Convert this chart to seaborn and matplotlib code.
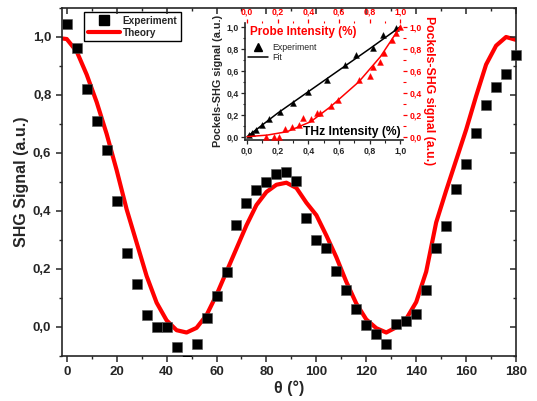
import numpy as np
import pandas as pd
import matplotlib
matplotlib.use("Agg")
import matplotlib.pyplot as plt
import seaborn as sns
from matplotlib.ticker import MultipleLocator, FuncFormatter, NullFormatter
from matplotlib.patches import Rectangle
from matplotlib.lines import Line2D

# ---------------- data ----------------
theta_exp = [0, 4, 8, 12, 16, 20, 24, 28, 32, 36, 40, 44, 48, 52, 56, 60, 64, 68, 72, 76,
             80, 84, 88, 92, 96, 100, 104, 108, 112, 116, 120, 124, 128, 132, 136, 140,
             144, 148, 152, 156, 160, 164, 168, 172, 176, 180]
shg_exp = [1.044, 0.961, 0.82, 0.709, 0.611, 0.433, 0.254, 0.147, 0.042, 0.0, 0.0, -0.069,
           -0.115, -0.061, 0.029, 0.107, 0.19, 0.35, 0.427, 0.473, 0.498, 0.528, 0.535, 0.504,
           0.375, 0.298, 0.271, 0.193, 0.125, 0.062, 0.006, -0.024, -0.061, 0.008, 0.021,
           0.043, 0.125, 0.271, 0.348, 0.476, 0.56, 0.669, 0.766, 0.828, 0.873, 0.937]

theta_th = [-2, 0, 4, 8, 12, 16, 20, 24, 28, 32, 36, 40, 44, 48, 52, 56, 60, 64, 68, 72, 76,
            80, 84, 88, 92, 96, 100, 104, 108, 112, 116, 120, 124, 128, 132, 136, 140, 144,
            148, 152, 156, 160, 164, 168, 172, 176, 180]
shg_th = [0.995, 0.993, 0.95, 0.87, 0.775, 0.665, 0.54, 0.405, 0.29, 0.175, 0.083, 0.022,
          -0.012, -0.02, -0.004, 0.04, 0.11, 0.19, 0.27, 0.35, 0.42, 0.465, 0.49, 0.497,
          0.479, 0.428, 0.385, 0.315, 0.24, 0.155, 0.08, 0.025, -0.005, -0.02, -0.002, 0.027,
          0.085, 0.19, 0.36, 0.47, 0.575, 0.68, 0.796, 0.905, 0.97, 1.0, 0.99]

# inset: THz intensity (black)
thz_int = [0.013, 0.029, 0.057, 0.094, 0.144, 0.214, 0.301, 0.399, 0.523, 0.639, 0.710,
           0.824, 0.885, 0.970]
thz_sig = [0.015, 0.036, 0.061, 0.106, 0.158, 0.227, 0.309, 0.409, 0.515, 0.652, 0.743,
           0.803, 0.925, 0.985]
thz_fit_x = [0.0, 0.2, 0.4, 0.6, 0.8, 1.0]
thz_fit_y = [0.0, 0.215, 0.41, 0.605, 0.80, 1.0]

# inset: probe intensity (red)
probe_int = [0.124, 0.174, 0.207, 0.25, 0.294, 0.337, 0.366, 0.42, 0.453, 0.479, 0.549,
             0.592, 0.729, 0.801, 0.823, 0.865, 0.897, 0.948, 0.974, 1.0]
probe_sig = [0.0, 0.0, 0.0, 0.067, 0.085, 0.106, 0.167, 0.158, 0.212, 0.212, 0.279, 0.333,
             0.515, 0.552, 0.636, 0.682, 0.764, 0.879, 0.94, 1.0]
probe_fit_x = [0.0, 0.13, 0.26, 0.415, 0.545, 0.73, 0.87, 1.0]
probe_fit_y = [0.0, 0.014, 0.045, 0.136, 0.273, 0.5, 0.727, 1.0]

# ---------------- style ----------------
sns.set_style("ticks")
plt.rcParams['font.family'] = ['Liberation Sans', 'DejaVu Sans']
plt.rcParams['axes.linewidth'] = 1.2

comma = FuncFormatter(lambda v, p: f"{v:.1f}".replace('.', ',').replace('-0,0', '0,0'))

fig = plt.figure(figsize=(5.37, 4.01), dpi=100)
rect = [0.115, 0.113, 0.846, 0.867]
ax = fig.add_axes(rect)

df_exp = pd.DataFrame({"theta": theta_exp, "shg": shg_exp})
df_th = pd.DataFrame({"theta": theta_th, "shg": shg_th})

sns.lineplot(data=df_th, x="theta", y="shg", ax=ax, color="#ff0000", lw=3.0,
             sort=False, zorder=2)
sns.scatterplot(data=df_exp, x="theta", y="shg", ax=ax, marker="s", s=48,
                color="black", edgecolor="#555555", linewidth=0.4, zorder=3)
sc = ax.collections[-1]
sc.set_clip_path(Rectangle((-0.1, 0.0), 1.3, 1.2, transform=ax.transAxes))

XLIM = (-2, 180)
YLIM = (-0.1, 1.1)
ax.set_xlim(*XLIM)
ax.set_ylim(*YLIM)
ax.xaxis.set_major_locator(MultipleLocator(20))
ax.xaxis.set_minor_locator(MultipleLocator(10))
ax.yaxis.set_major_locator(MultipleLocator(0.2))
ax.yaxis.set_minor_locator(MultipleLocator(0.1))
ax.yaxis.set_major_formatter(comma)
ax.tick_params(which='major', direction='out', length=4, width=1.1, labelsize=9.5)
ax.tick_params(which='minor', direction='out', length=2.5, width=1.0)
for lab in ax.get_xticklabels() + ax.get_yticklabels():
    lab.set_fontweight('bold')

# inward ticks on top / right (origin style) via a tick-only overlay axes
axo = fig.add_axes(rect, frameon=False)
axo.set_xlim(*XLIM)
axo.set_ylim(*YLIM)
axo.patch.set_visible(False)
axo.xaxis.tick_top()
axo.yaxis.tick_right()
axo.xaxis.set_major_locator(MultipleLocator(20))
axo.xaxis.set_minor_locator(MultipleLocator(10))
axo.yaxis.set_major_locator(MultipleLocator(0.2))
axo.yaxis.set_minor_locator(MultipleLocator(0.1))
axo.xaxis.set_major_formatter(NullFormatter())
axo.yaxis.set_major_formatter(NullFormatter())
axo.tick_params(which='major', direction='in', length=4, width=1.1)
axo.tick_params(which='minor', direction='in', length=2.5, width=1.0)

ax.set_xlabel("θ (°)", fontsize=11.5, fontweight='bold', labelpad=2)
ax.set_ylabel("SHG Signal (a.u.)", fontsize=11.5, fontweight='bold', labelpad=3)

handles = [Line2D([], [], marker='s', ls='none', color='black', markersize=7),
           Line2D([], [], color='#ff0000', lw=3.0)]
leg = ax.legend(handles, ["Experiment", "Theory"], loc='upper left',
                bbox_to_anchor=(0.049, 0.988), borderaxespad=0, fancybox=False,
                edgecolor='black', framealpha=1, prop={'weight': 'bold', 'size': 7.2},
                handlelength=3.2, handletextpad=0.3, borderpad=0.35, labelspacing=0.2)
leg.get_frame().set_linewidth(1.0)

# ---------------- inset ----------------
pos = [0.456, 0.651, 0.295, 0.292]
axi = fig.add_axes(pos)
axr = fig.add_axes(pos, frameon=False)

df_thz = pd.DataFrame({"x": thz_int, "y": thz_sig})
df_thzf = pd.DataFrame({"x": thz_fit_x, "y": thz_fit_y})
df_pr = pd.DataFrame({"x": probe_int, "y": probe_sig})
df_prf = pd.DataFrame({"x": probe_fit_x, "y": probe_fit_y})

sns.lineplot(data=df_thzf, x="x", y="y", ax=axi, color="black", lw=1.1, sort=False)
sns.scatterplot(data=df_thz, x="x", y="y", ax=axi, marker="^", s=18, color="black",
                edgecolor="black", linewidth=0.3)
sns.lineplot(data=df_prf, x="x", y="y", ax=axr, color="#ff0000", lw=1.1, sort=False)
sns.scatterplot(data=df_pr, x="x", y="y", ax=axr, marker="^", s=18, color="#ff0000",
                edgecolor="#ff0000", linewidth=0.3)

for a in (axi, axr):
    a.set_xlim(-0.015, 1.02)
    a.set_ylim(-0.03, 1.036)
    a.xaxis.set_major_locator(MultipleLocator(0.2))
    a.xaxis.set_minor_locator(MultipleLocator(0.1))
    a.yaxis.set_major_locator(MultipleLocator(0.2))
    a.yaxis.set_minor_locator(MultipleLocator(0.1))
    a.xaxis.set_major_formatter(comma)
    a.yaxis.set_major_formatter(comma)
    a.set_xlabel("")
    a.set_ylabel("")

axi.spines['top'].set_visible(False)
axi.spines['right'].set_visible(False)
axi.tick_params(which='major', direction='out', length=3, width=0.9, labelsize=6.3, pad=1.5)
axi.tick_params(which='minor', direction='out', length=1.8, width=0.8)
for lab in axi.get_xticklabels() + axi.get_yticklabels():
    lab.set_fontweight('bold')

axr.xaxis.tick_top()
axr.yaxis.tick_right()
axr.spines['top'].set_visible(True)
axr.spines['right'].set_visible(True)
axr.spines['left'].set_visible(False)
axr.spines['bottom'].set_visible(False)
for s in ('top', 'right'):
    axr.spines[s].set_color('#ff0000')
    axr.spines[s].set_linewidth(1.2)
axr.tick_params(which='major', direction='out', length=3, width=0.9, labelsize=6.3,
                colors='#ff0000', pad=1.5)
axr.tick_params(which='minor', direction='out', length=1.8, width=0.8, colors='#ff0000')
for lab in axr.get_xticklabels() + axr.get_yticklabels():
    lab.set_fontweight('bold')

axi.set_ylabel("Pockels-SHG signal (a.u.)", fontsize=7.8, fontweight='bold', labelpad=2)
axr.yaxis.set_label_position('right')
axr.set_ylabel("Pockels-SHG signal (a.u.)", fontsize=8.8, fontweight='bold',
               color='#ff0000', rotation=270, va='center', ha='center')
axr.yaxis.set_label_coords(1.16, 0.42)

axi.text(0.03, 0.975, "Probe Intensity (%)", transform=axi.transAxes, color='#ff0000',
         fontsize=8.5, fontweight='bold', va='top', ha='left')
axi.text(0.985, 0.02, "THz Intensity (%)", transform=axi.transAxes, color='black',
         fontsize=8.7, fontweight='bold', va='bottom', ha='right')

ih = [Line2D([], [], marker='^', ls='none', color='black', markersize=5.5),
      Line2D([], [], color='black', lw=1.1)]
axi.legend(ih, ["Experiment", "Fit"], loc='upper left', bbox_to_anchor=(0.0, 0.86),
           frameon=False, prop={'size': 6.3}, handlelength=2.2, handletextpad=0.5,
           borderaxespad=0, labelspacing=0.2)

fig.savefig("out.png", dpi=100)
